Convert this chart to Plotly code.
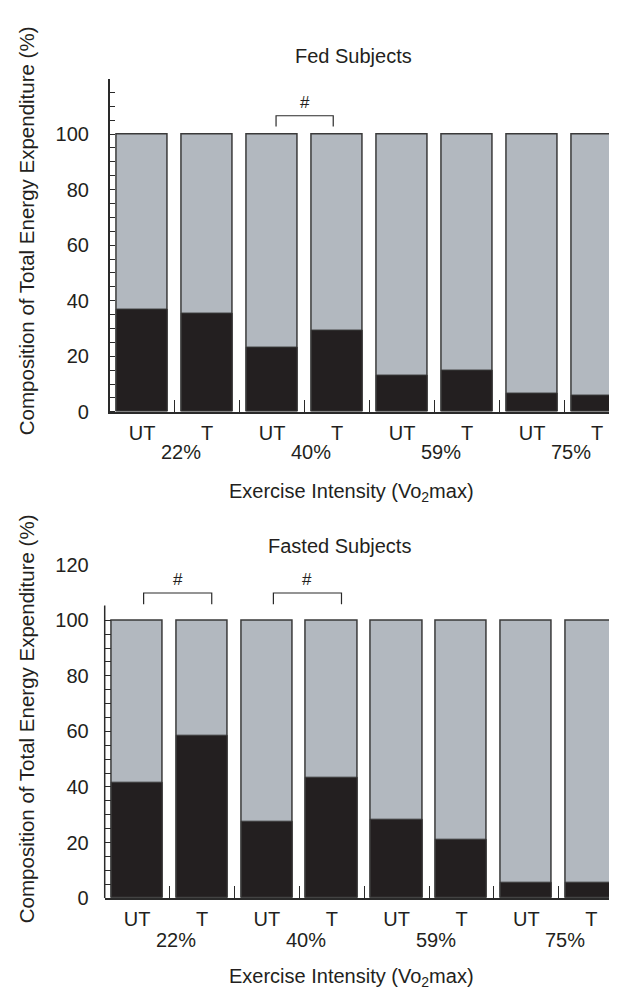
import plotly.graph_objects as go

# ---- data ----
bar_labels = ["UT", "T", "UT", "T", "UT", "T", "UT", "T"]
intensity_labels = ["22%", "40%", "59%", "75%"]
total_pct = [100, 100, 100, 100, 100, 100, 100, 100]
fed_black = [37, 35.5, 23, 29.3, 13, 15, 6.6, 5.9]
fasted_black = [41.5, 58.3, 27.6, 43.3, 28.3, 21.2, 5.5, 5.5]
fed_sig_pairs = [(2, 3)]
fasted_sig_pairs = [(0, 1), (2, 3)]
fed_yticks = [0, 20, 40, 60, 80, 100]
fasted_yticks = [0, 20, 40, 60, 80, 100, 120]

W, H = 617, 996
FONT = "Liberation Sans, Arial, sans-serif"
GRAY = "#b2b8bf"
BLACK = "#231f20"
EDGE = "#3a3a3a"
AX = "#2a2a2a"
TXT = "#231f20"
TICK_SIZE = 20
TITLE_SIZE = 20

def py(px):
    return 1 - px / H

def pxx(px):
    return px / W

xs = list(range(len(bar_labels)))

fig = go.Figure()
for xa, ya, blk in [("x", "y", fed_black), ("x2", "y2", fasted_black)]:
    fig.add_trace(go.Bar(x=xs, y=total_pct, xaxis=xa, yaxis=ya, width=0.79,
                         marker=dict(color=GRAY, line=dict(color=EDGE, width=1.5)),
                         showlegend=False, hoverinfo="skip"))
    fig.add_trace(go.Bar(x=xs, y=blk, xaxis=xa, yaxis=ya, width=0.79,
                         marker=dict(color=BLACK, line=dict(color=EDGE, width=1)),
                         showlegend=False))

common_x = dict(showline=True, linecolor=AX, linewidth=1.5, showgrid=False, zeroline=False,
                tickmode="array", tickvals=xs, ticktext=bar_labels, ticks="",
                tickfont=dict(family=FONT, size=TICK_SIZE, color=TXT), ticklabelstandoff=2,
                minor=dict(tickmode="array", tickvals=[i + 0.5 for i in xs], ticks="inside",
                           ticklen=12, tickwidth=1.2, tickcolor=AX))
common_y = dict(showgrid=False, zeroline=False, tickmode="array", ticks="",
                tickfont=dict(family=FONT, size=TICK_SIZE, color=TXT), ticklabelstandoff=15)

fig.update_layout(
    width=W, height=H, margin=dict(l=0, r=0, t=0, b=0),
    paper_bgcolor="white", plot_bgcolor="white", barmode="overlay", bargap=0,
    font=dict(family=FONT, color=TXT),
    xaxis=dict(domain=[pxx(101.7), 1], range=[-0.5, 7.43], anchor="y", **common_x),
    yaxis=dict(domain=[py(401.7), py(60.9)], range=[0, 120], anchor="x",
               showline=True, linecolor=AX, linewidth=1.5, tickvals=fed_yticks,
               minor=dict(tickmode="array", tickvals=list(range(0, 120, 5)), ticks="inside",
                          ticklen=6, tickwidth=1.2, tickcolor=AX),
               **common_y),
    xaxis2=dict(domain=[pxx(96.7), 1], range=[-0.5, 7.52], anchor="y2", **common_x),
    yaxis2=dict(domain=[py(899), py(558)], range=[0, 120], anchor="x2",
                showline=False, tickvals=fasted_yticks,
                minor=dict(tickmode="array", tickvals=list(range(0, 105, 5)), ticks="inside",
                           ticklen=6, tickwidth=1.2, tickcolor=AX),
                **common_y),
)

# y axis line of lower panel stops a little above 100
fig.add_shape(type="line", xref="paper", yref="y2", x0=pxx(96.7), x1=pxx(96.7), y0=0, y1=105.3,
              line=dict(color=AX, width=1.5))

ann = []
# intensity labels under each UT/T pair
for xa, ypx in [("x", 443), ("x2", 941.7)]:
    for k, lab in enumerate(intensity_labels):
        ann.append(dict(x=2 * k + 0.6, y=py(ypx), xref=xa, yref="paper", text=lab, showarrow=False,
                        font=dict(size=TICK_SIZE, family=FONT), xanchor="center", yanchor="middle"))

# panel titles
ann.append(dict(x=pxx(345), y=py(38), xref="paper", yref="paper", text="Fed Subjects",
                showarrow=False, font=dict(size=TITLE_SIZE, family=FONT), xanchor="center", yanchor="middle"))
ann.append(dict(x=pxx(331), y=py(539), xref="paper", yref="paper", text="Fasted Subjects",
                showarrow=False, font=dict(size=TITLE_SIZE, family=FONT), xanchor="center", yanchor="middle"))
for ypx in [484, 980]:
    ann.append(dict(x=pxx(343), y=py(ypx), xref="paper", yref="paper",
                    text="Exercise Intensity (Vo<sub>2</sub>max)", showarrow=False,
                    font=dict(size=TITLE_SIZE, family=FONT), xanchor="center", yanchor="middle"))
for ypx in [217, 716]:
    ann.append(dict(x=pxx(18), y=py(ypx), xref="paper", yref="paper", textangle=-90,
                    text="Composition of Total Energy Expenditure (%)", showarrow=False,
                    font=dict(size=20.5, family=FONT), xanchor="center", yanchor="middle"))

# significance brackets
def brackets(pairs, xa, ya, lo, hi, hash_y, shift_l, shift_r):
    for (i, j) in pairs:
        x0, x1 = i + shift_l, j + shift_r
        fig.add_shape(type="path", xref=xa, yref=ya,
                      path=f"M {x0} {lo} L {x0} {hi} L {x1} {hi} L {x1} {lo}",
                      line=dict(color=AX, width=1.2))
        ann.append(dict(x=(x0 + x1) / 2, y=hash_y, xref=xa, yref=ya, text="#", showarrow=False,
                        font=dict(size=17, family=FONT), xanchor="center", yanchor="middle"))

brackets(fed_sig_pairs, "x", "y", 102.7, 106.6, 111.5, 0.06, -0.06)
brackets(fasted_sig_pairs, "x2", "y2", 105.8, 109.8, 114.8, 0.1, 0.15)

fig.update_layout(annotations=ann)
fig.write_html("out.html")
